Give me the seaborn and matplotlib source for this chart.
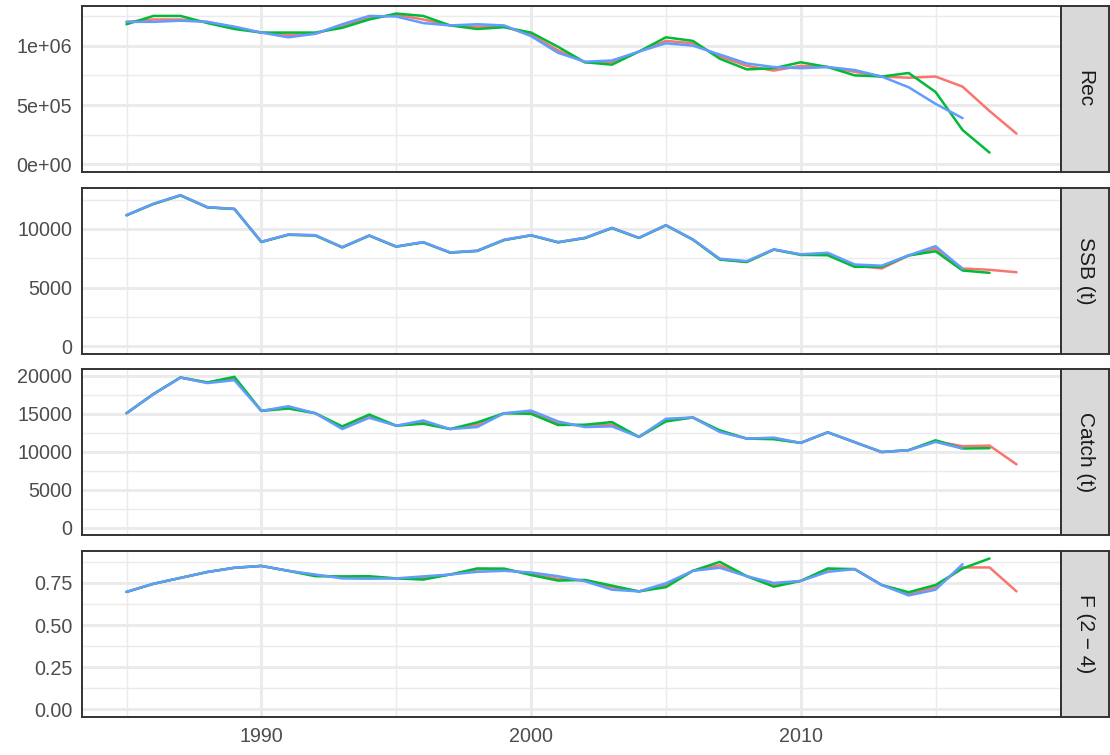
"""Retrospective runs of a stock assessment: Rec, SSB, Catch and F by year.

Four stacked panels with ggplot-style strips on the right, one line per peel.
"""

import matplotlib

matplotlib.use("Agg")
import matplotlib.pyplot as plt
import pandas as pd
import seaborn as sns
from matplotlib.ticker import FuncFormatter, MultipleLocator

YEARS = list(range(1985, 2019))
RUNS = ["2018", "2017", "2016"]
COLORS = {"2018": "#F8766D", "2017": "#00BA38", "2016": "#619CFF"}

# Recruitment (numbers)
REC_2018 = [1.20e6, 1.22e6, 1.22e6, 1.20e6, 1.15e6, 1.11e6, 1.09e6, 1.10e6, 1.17e6, 1.23e6,
            1.26e6, 1.22e6, 1.17e6, 1.16e6, 1.16e6, 1.09e6, 0.96e6, 0.86e6, 0.86e6, 0.95e6,
            1.04e6, 1.02e6, 0.91e6, 0.83e6, 0.79e6, 0.83e6, 0.82e6, 0.78e6, 0.74e6, 0.73e6,
            0.74e6, 0.655e6, 0.45e6, 0.26e6]
REC_2017 = [1.18e6, 1.25e6, 1.25e6, 1.19e6, 1.14e6, 1.11e6, 1.11e6, 1.11e6, 1.15e6, 1.22e6,
            1.27e6, 1.25e6, 1.17e6, 1.14e6, 1.155e6, 1.11e6, 0.99e6, 0.86e6, 0.84e6, 0.95e6,
            1.07e6, 1.04e6, 0.89e6, 0.80e6, 0.81e6, 0.86e6, 0.82e6, 0.75e6, 0.74e6, 0.77e6,
            0.61e6, 0.29e6, 0.10e6]
REC_2016 = [1.20e6, 1.20e6, 1.21e6, 1.20e6, 1.16e6, 1.11e6, 1.07e6, 1.10e6, 1.18e6, 1.25e6,
            1.245e6, 1.19e6, 1.17e6, 1.18e6, 1.17e6, 1.08e6, 0.94e6, 0.865e6, 0.875e6, 0.95e6,
            1.02e6, 1.00e6, 0.925e6, 0.85e6, 0.82e6, 0.81e6, 0.82e6, 0.795e6, 0.74e6, 0.65e6,
            0.51e6, 0.39e6]

# Spawning stock biomass (t)
SSB_2018 = [11160, 12130, 12860, 11840, 11700, 8890, 9510, 9450, 8430, 9430,
            8490, 8860, 7980, 8130, 9060, 9450, 8860, 9230, 10080, 9230,
            10310, 9090, 7420, 7190, 8240, 7810, 7800, 6880, 6620, 7730,
            8320, 6620, 6510, 6300]
SSB_2017 = [11160, 12120, 12850, 11830, 11690, 8880, 9490, 9430, 8420, 9420,
            8480, 8850, 7970, 8110, 9040, 9440, 8850, 9210, 10060, 9220,
            10300, 9080, 7380, 7170, 8230, 7780, 7750, 6760, 6760, 7730,
            8090, 6450, 6250]
SSB_2016 = [11170, 12140, 12870, 11850, 11710, 8900, 9520, 9460, 8440, 9440,
            8500, 8870, 7990, 8140, 9070, 9460, 8870, 9240, 10090, 9240,
            10320, 9100, 7450, 7250, 8250, 7830, 7960, 6960, 6860, 7740,
            8520, 6590]

# Catch (t)
CATCH_2018 = [15080, 17600, 19780, 19130, 19700, 15390, 15850, 15080, 13200, 14700,
              13440, 13900, 13000, 13550, 15080, 15200, 13750, 13400, 13600, 11960,
              14200, 14520, 12700, 11740, 11750, 11180, 12570, 11270, 9970, 10220,
              11400, 10740, 10820, 8350]
CATCH_2017 = [15080, 17620, 19790, 19130, 19870, 15390, 15700, 15080, 13350, 14910,
              13440, 13700, 13000, 13870, 15080, 15000, 13530, 13570, 13920, 11960,
              14000, 14520, 12830, 11740, 11660, 11180, 12570, 11270, 9970, 10220,
              11520, 10440, 10480]
CATCH_2016 = [15080, 17580, 19770, 19050, 19430, 15390, 16000, 15080, 13000, 14480,
              13440, 14130, 13000, 13260, 15080, 15430, 14000, 13260, 13350, 11960,
              14350, 14520, 12610, 11740, 11870, 11180, 12570, 11270, 9970, 10220,
              11300, 10440]

# Fishing mortality, ages 2-4
F_2018 = [0.697, 0.745, 0.780, 0.815, 0.840, 0.851, 0.822, 0.795, 0.785, 0.783,
          0.777, 0.780, 0.800, 0.830, 0.830, 0.805, 0.775, 0.765, 0.725, 0.700,
          0.735, 0.822, 0.855, 0.790, 0.740, 0.762, 0.830, 0.832, 0.738, 0.685,
          0.725, 0.842, 0.842, 0.700]
F_2017 = [0.697, 0.745, 0.780, 0.815, 0.840, 0.851, 0.822, 0.790, 0.789, 0.790,
          0.777, 0.770, 0.800, 0.836, 0.835, 0.797, 0.764, 0.768, 0.734, 0.700,
          0.725, 0.822, 0.875, 0.790, 0.728, 0.762, 0.836, 0.832, 0.738, 0.695,
          0.738, 0.836, 0.895]
F_2016 = [0.697, 0.745, 0.780, 0.815, 0.840, 0.851, 0.822, 0.800, 0.777, 0.775,
          0.777, 0.789, 0.800, 0.816, 0.822, 0.812, 0.790, 0.760, 0.710, 0.700,
          0.748, 0.822, 0.840, 0.790, 0.750, 0.762, 0.816, 0.832, 0.738, 0.676,
          0.710, 0.861]

PANELS = [
    ("Rec", [REC_2018, REC_2017, REC_2016], 5e5, lambda v, _: f"{v:.0e}"),
    ("SSB (t)", [SSB_2018, SSB_2017, SSB_2016], 5000, lambda v, _: f"{v:.0f}"),
    ("Catch (t)", [CATCH_2018, CATCH_2017, CATCH_2016], 5000, lambda v, _: f"{v:.0f}"),
    ("F (2 \u2212 4)", [F_2018, F_2017, F_2016], 0.25, lambda v, _: f"{v:.2f}"),
]


def long_frame(series: list) -> pd.DataFrame:
    rows = []
    for run, values in zip(RUNS, series):
        for year, value in zip(YEARS, values):
            rows.append({"year": year, "value": value, "run": run})
    return pd.DataFrame(rows)


def style_panel(ax, step: float, fmt) -> None:
    ax.set_facecolor("white")
    ax.set_axisbelow(True)
    ax.xaxis.set_major_locator(MultipleLocator(10))
    ax.xaxis.set_minor_locator(MultipleLocator(5))
    ax.yaxis.set_major_locator(MultipleLocator(step))
    ax.yaxis.set_minor_locator(MultipleLocator(step / 2))
    ax.yaxis.set_major_formatter(FuncFormatter(fmt))
    ax.grid(which="major", color="#EBEBEB", linewidth=2.1)
    ax.grid(which="minor", color="#EBEBEB", linewidth=1.05)
    ax.tick_params(which="major", direction="out", length=4, width=1.4,
                   color="#333333", labelcolor="#4D4D4D", labelsize=14.2, pad=3)
    ax.tick_params(which="minor", length=0)
    for spine in ax.spines.values():
        spine.set_color("#333333")
        spine.set_linewidth(1.4)
    ax.set_xlabel("")
    ax.set_ylabel("")


def add_strip(fig, ax, label: str) -> None:
    pos = ax.get_position()
    strip = fig.add_axes([pos.x1, pos.y0, 48 / 1110, pos.height])
    strip.set_facecolor("#D9D9D9")
    strip.set_xticks([])
    strip.set_yticks([])
    for spine in strip.spines.values():
        spine.set_color("#333333")
        spine.set_linewidth(1.4)
    strip.text(0.5, 0.5, label, rotation=-90, ha="center", va="center",
               fontsize=15, color="#1A1A1A", transform=strip.transAxes)


def main() -> None:
    sns.set_style("white")
    plt.rcParams["font.family"] = ["Liberation Sans", "DejaVu Sans"]

    fig, axes = plt.subplots(4, 1, figsize=(11.1, 7.55), dpi=100, sharex=True)
    fig.subplots_adjust(left=82 / 1110, right=1061 / 1110, top=1 - 6 / 755,
                        bottom=38 / 755, hspace=0.094)

    for ax, (label, series, step, fmt) in zip(axes, PANELS):
        df = long_frame(series)
        sns.lineplot(data=df, x="year", y="value", hue="run", hue_order=RUNS,
                     palette=COLORS, estimator=None, linewidth=1.8, legend=False, ax=ax)
        top = df.value.max()
        ax.set_ylim(-0.05 * top, 1.05 * top)
        style_panel(ax, step, fmt)
        add_strip(fig, ax, label)

    span = YEARS[-1] - YEARS[0]
    axes[-1].set_xlim(YEARS[0] - 0.05 * span, YEARS[-1] + 0.05 * span)

    fig.savefig("out.png", dpi=100)


if __name__ == "__main__":
    main()
